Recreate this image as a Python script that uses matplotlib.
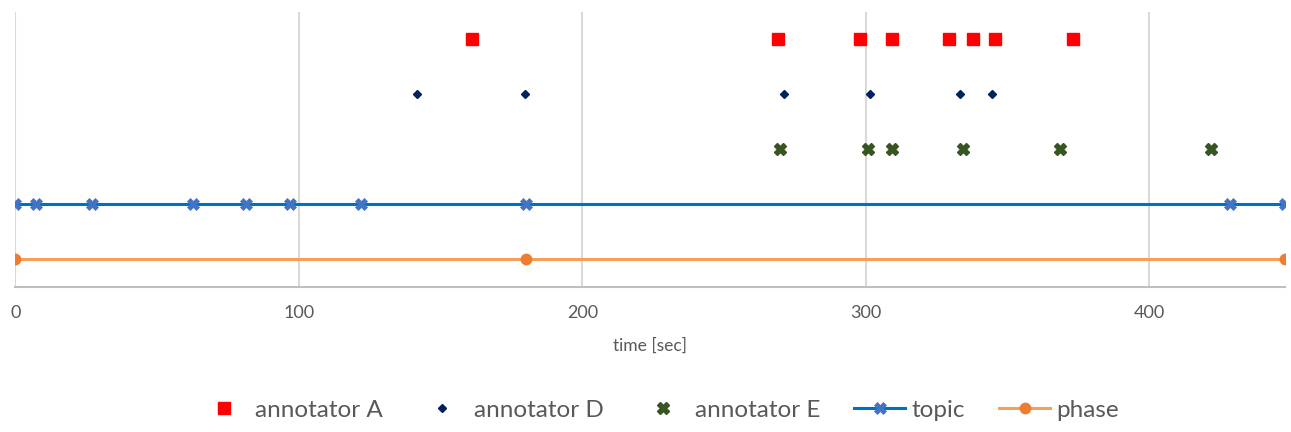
from matplotlib import pyplot as plt

plt.rcParams['font.family'] = ['Lato', 'DejaVu Sans']

# times in seconds for each row
annot_a = [160.9, 269.1, 297.8, 309.1, 329.3, 337.8, 345.6, 373.2]
annot_d = [141.5, 179.7, 271.0, 301.5, 333.4, 344.7]
annot_e = [269.6, 300.7, 309.1, 334.4, 368.5, 421.8]
topic = [0, 7.3, 27.0, 62.7, 81.5, 96.7, 122.0, 180.1, 428.4, 447.8]
phase = [0, 180.0, 447.8]

row_a, row_d, row_e, row_topic, row_phase = 5, 4, 3, 2, 1

fig = plt.figure(figsize=(12.91, 4.32), dpi=100)
ax = fig.add_axes([0.012, 0.336, 0.9835, 0.637])

ax.plot(annot_a, [row_a] * len(annot_a), 's', color='#FF0000', ms=8, label='annotator A')
ax.plot(annot_d, [row_d] * len(annot_d), 'D', color='#002060', ms=4.5, label='annotator D')
ax.plot(annot_e, [row_e] * len(annot_e), 'X', color='#375623', ms=9, mec='#375623', label='annotator E')
ax.plot(topic, [row_topic] * len(topic), '-', color='#0070C0', lw=2.2,
        marker='X', ms=9, mfc='#4472C4', mec='#4472C4', mew=0.5, label='topic')
ax.plot(phase, [row_phase] * len(phase), '-', color='#F4A05A', lw=2.2,
        marker='o', ms=7.5, mfc='#ED7D31', mec='#ED7D31', label='phase')

ax.set_xlim(0, 448)
ax.set_ylim(0.5, 5.5)
ax.set_xticks([0, 100, 200, 300, 400])
ax.set_yticks([])
ax.grid(True, axis='x', color='#D9D9D9', lw=1.5)
ax.set_axisbelow(True)
for s in ['top', 'right', 'left']:
    ax.spines[s].set_visible(False)
ax.spines['bottom'].set_color('#BFBFBF')
ax.spines['bottom'].set_linewidth(1.5)
ax.tick_params(axis='x', length=0, pad=13, labelsize=13, labelcolor='#595959')
ax.set_xlabel('time [sec]', fontsize=12.5, color='#595959', labelpad=12)

fig.legend(loc='center', bbox_to_anchor=(0.51, 0.05), ncol=5, frameon=False,
           fontsize=17.5, handlelength=2.1, columnspacing=1.4, handletextpad=0.25,
           numpoints=1, labelcolor='#595959')

fig.savefig('out.png', dpi=100)
